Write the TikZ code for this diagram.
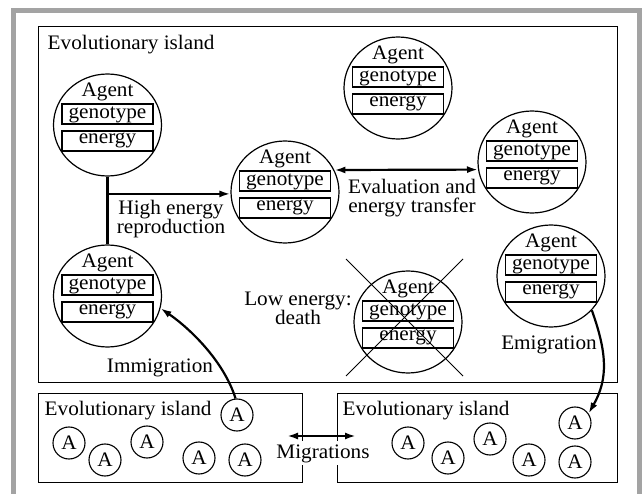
\documentclass[tikz,border=0pt]{standalone}
\usepackage{fontspec}
\setmainfont{Liberation Serif}[FakeStretch=1.03]
\usetikzlibrary{calc,shapes.geometric,arrows.meta}
\definecolor{framegray}{RGB}{163,163,163}
\newcommand{\agentat}[2]{%
  \node[agent] (#1) at (#2) {};
  \node[plain, anchor=base] (#1t) at ($(#1)+(0,-28.5)$) {Agent};
  \node[gbox] (#1g) at ($(#1)+(0,-11)$) {genotype};
  \node[ebox] (#1e) at ($(#1)+(0,16)$) {energy};
}
\begin{document}
\begin{tikzpicture}[x=1pt,y=-1pt,
  font=\fontsize{20.6}{19}\selectfont,
  islandbox/.style={draw, line width=1.3pt, rectangle, inner sep=0pt, anchor=north west},
  agent/.style={ellipse, draw, line width=1.2pt, minimum width=108pt, minimum height=102pt, inner sep=0pt},
  fieldbox/.style={draw, line width=1.2pt, rectangle, minimum width=91pt, minimum height=20pt, inner sep=0pt, text depth=0pt},
  gbox/.style={fieldbox, text height=10pt},
  ebox/.style={fieldbox, text height=6pt},
  plain/.style={inner sep=0pt},
  smallagent/.style={circle, draw, line width=1.1pt, minimum size=32pt, inner sep=0pt},
  flow/.style={line width=2.2pt, -{Latex[length=11pt,width=7pt]}},
  flowboth/.style={line width=2.2pt, {Latex[length=11pt,width=7pt]}-{Latex[length=11pt,width=7pt]}},
  link/.style={line width=2.2pt},
  crossline/.style={line width=1pt}
]
\useasboundingbox (0,0) rectangle (643,494);
\fill[white] (0,0) rectangle (643,494);
\draw[line width=5pt, framegray] (13.5,494) -- (13.5,10.5) -- (639.5,10.5) -- (639.5,494);

% islands
\node[islandbox, minimum width=579pt, minimum height=356pt] (main) at (38,26) {};
\node[islandbox, minimum width=264pt, minimum height=89pt] (bl) at (38,393) {};
\node[islandbox, minimum width=280pt, minimum height=89pt] (br) at (337,393) {};
\node[plain, anchor=base west] (mainlbl) at (47.5,49.5) {Evolutionary island};
\node[plain, anchor=base west] (bllbl) at (44.5,416) {Evolutionary island};
\node[plain, anchor=base west] (brlbl) at (342.5,416) {Evolutionary island};

% agents
\agentat{A1}{107.5,125}
\agentat{A2}{285,192}
\agentat{A3}{398,88}
\agentat{A4}{532,162}
\agentat{A5}{107.5,296}
\agentat{A6}{408,322}
\agentat{A7}{551,276}

% death cross
\draw[crossline] ($(A6)+(-62,-63)$) -- ($(A6)+(55,54)$);
\draw[crossline] ($(A6)+(55,-63)$) -- ($(A6)+(-62,54)$);

% small agents
\node[smallagent] (sa1) at (237,415) {A};
\node[smallagent] (sa2) at (69,443) {A};
\node[smallagent] (sa3) at (105,460) {A};
\node[smallagent] (sa4) at (147,442) {A};
\node[smallagent] (sa5) at (199,458) {A};
\node[smallagent] (sa6) at (245,460) {A};
\node[smallagent] (sb1) at (408,443) {A};
\node[smallagent] (sb2) at (448,458) {A};
\node[smallagent] (sb3) at (490,439) {A};
\node[smallagent] (sb4) at (529,460) {A};
\node[smallagent] (sb5) at (575,423) {A};
\node[smallagent] (sb6) at (575,462) {A};

% labels (base = baseline of last line)
\node[plain, align=center, anchor=base] (her) at (171,234) {High energy\\reproduction};
\node[plain, align=center, anchor=base] (eet) at (412,213) {Evaluation and\\energy transfer};
\node[plain, align=center, anchor=base] (led) at (298,325) {Low energy:\\death};
\node[plain, anchor=base] (imm) at (160,373) {Immigration};
\node[plain, anchor=base] (emi) at (549,350) {Emigration};
\node[plain, anchor=base, fill=white, inner ysep=3pt] (mig) at (323,458) {Migrations};

% connectors
\draw[link] (A1.south) -- (A5.north);
\draw[flow] (A1.south |- A2.182) -- (A2.182);
\draw[flowboth] (A2.24) -- (A4.188.5);
\draw[flow] (sa1.95) .. controls ($(sa1.95)+(-12,-38)$) and ($(A5.-13)+(29,20)$) .. (A5.-13);
\draw[flow] (A7.-40.6) .. controls ($(A7.-40.6)+(15,42)$) and ($(sb5.35)+(20,-35)$) .. (sb5.35);
\coordinate (migL) at (287,436);
\coordinate (migR) at (356,436);
\draw[flowboth] (migL) -- (migR);
\end{tikzpicture}
\end{document}
